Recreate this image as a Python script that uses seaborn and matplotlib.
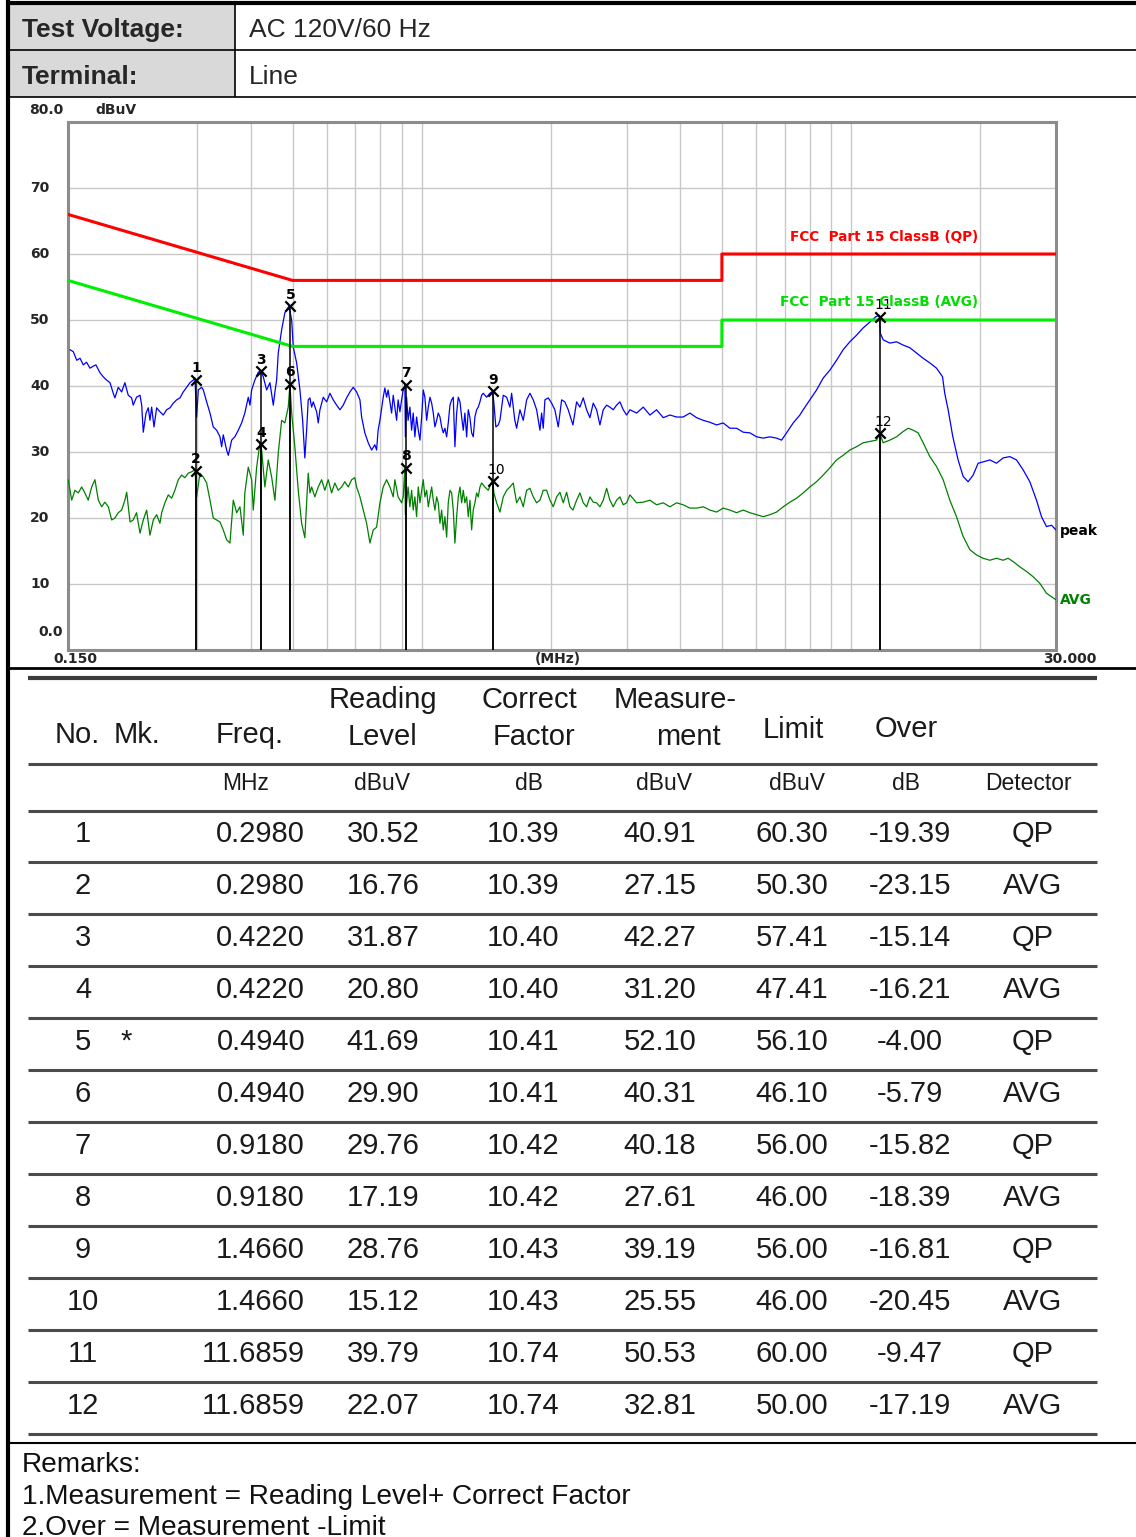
import numpy as np
import pandas as pd
import matplotlib
matplotlib.use("Agg")
import matplotlib.pyplot as plt
import seaborn as sns
from matplotlib import font_manager as fm
from matplotlib.patches import Rectangle

sns.set_style("white")
plt.rcParams["font.family"] = ["Liberation Sans", "DejaVu Sans"]

# ---------------- header info ----------------
header_labels = ["Test Voltage:", "Terminal:"]
header_values = ["AC 120V/60 Hz", "Line"]

# ---------------- spectrum traces (MHz, dBuV) ----------------
peak_freq = [
    0.1516, 0.1543, 0.1572, 0.1600, 0.1628, 0.1657, 0.1688, 0.1717, 0.1742, 0.1781,
    0.1812, 0.1845, 0.1879, 0.1912, 0.1929, 0.1964, 0.2000, 0.2035, 0.2072, 0.2110,
    0.2128, 0.2166, 0.2207, 0.2227, 0.2246, 0.2279, 0.2307, 0.2328, 0.2349, 0.2379,
    0.2413, 0.2456, 0.2500, 0.2546, 0.2592, 0.2638, 0.2686, 0.2735, 0.2783, 0.2834,
    0.2885, 0.2937, 0.2963, 0.2990, 0.3017, 0.3072, 0.3099, 0.3155, 0.3212, 0.3269,
    0.3329, 0.3389, 0.3419, 0.3449, 0.3512, 0.3543, 0.3575, 0.3608, 0.3670, 0.3738,
    0.3806, 0.3872, 0.3944, 0.3980, 0.4016, 0.4086, 0.4163, 0.4222, 0.4274, 0.4352,
    0.4430, 0.4510, 0.4550, 0.4592, 0.4632, 0.4717, 0.4799, 0.4905, 0.4977, 0.5020,
    0.5112, 0.5203, 0.5279, 0.5342, 0.5393, 0.5440, 0.5490, 0.5540, 0.5588, 0.5690,
    0.5740, 0.5792, 0.5896, 0.6004, 0.6111, 0.6221, 0.6334, 0.6448, 0.6563, 0.6683,
    0.6803, 0.6925, 0.7051, 0.7178, 0.7243, 0.7369, 0.7504, 0.7642, 0.7775, 0.7849,
    0.7913, 0.7990, 0.8133, 0.8205, 0.8282, 0.8349, 0.8430, 0.8507, 0.8581, 0.8657,
    0.8738, 0.8809, 0.8894, 0.8975, 0.9054, 0.9134, 0.9159, 0.9219, 0.9293, 0.9384,
    0.9470, 0.9552, 0.9637, 0.9727, 0.9814, 0.9904, 0.9994, 1.0081, 1.0170, 1.0265,
    1.0355, 1.0450, 1.0545, 1.0637, 1.0731, 1.0831, 1.0925, 1.1025, 1.1125, 1.1222,
    1.1321, 1.1427, 1.1527, 1.1632, 1.1738, 1.1841, 1.1945, 1.2057, 1.2163, 1.2273,
    1.2385, 1.2493, 1.2603, 1.2721, 1.2831, 1.2948, 1.3066, 1.3180, 1.3297, 1.3421,
    1.3538, 1.3662, 1.3786, 1.3907, 1.4161, 1.4414, 1.4622, 1.4722, 1.4879, 1.5070,
    1.5208, 1.5481, 1.5764, 1.6045, 1.6191, 1.6472, 1.6631, 1.6930, 1.7233, 1.7548,
    1.7862, 1.8182, 1.8514, 1.8846, 1.9018, 1.9184, 1.9354, 1.9707, 2.0065, 2.0414,
    2.0791, 2.1170, 2.1537, 2.1933, 2.2494, 2.2943, 2.3354, 2.3772, 2.4206, 2.4640,
    2.5081, 2.5540, 2.5998, 2.6463, 2.6947, 2.7429, 2.7920, 2.8430, 2.8940, 2.9458,
    2.9997, 3.0534, 3.1649, 3.2793, 3.3990, 3.5231, 3.6504, 3.7837, 3.9219, 4.0636,
    4.2120, 4.3658, 4.5236, 4.6888, 4.8600, 5.0356, 5.2195, 5.4100, 5.6056, 5.8102,
    6.0223, 6.2400, 6.4678, 6.7039, 6.8861, 7.0731, 7.3288, 7.5964, 7.7324, 8.0147,
    8.3073, 8.6076, 8.9218, 9.2475, 9.5817, 9.9316, 10.294, 10.667, 11.056, 11.419,
    11.633, 11.696, 11.874, 12.307, 12.757, 13.217, 13.700, 14.201, 14.713, 15.251,
    15.808, 16.325, 16.519, 16.822, 17.252, 17.748, 18.232, 18.726, 19.236, 19.758,
    20.296, 21.037, 21.805, 22.593, 23.418, 24.273, 25.150, 26.069, 27.020, 27.754,
    28.508, 29.285, 30.0,
]
peak_level = [
    45.5, 45.2, 43.9, 44.2, 43.2, 43.6, 42.7, 43.0, 43.2, 42.0,
    41.4, 40.9, 40.5, 38.9, 38.2, 39.8, 39.1, 40.5, 38.6, 38.2,
    37.1, 38.3, 38.6, 37.1, 33.0, 35.9, 36.7, 34.8, 36.8, 33.8,
    36.7, 36.1, 35.6, 36.4, 36.7, 37.4, 37.9, 38.2, 39.1, 39.8,
    40.5, 40.9, 41.2, 35.3, 39.4, 39.8, 39.4, 37.6, 35.9, 33.8,
    33.3, 32.3, 30.8, 32.6, 30.3, 29.5, 30.6, 31.8, 32.3, 33.3,
    34.4, 35.9, 38.3, 37.1, 39.4, 40.9, 42.1, 42.3, 41.4, 39.4,
    40.5, 37.1, 39.1, 40.9, 45.0, 48.5, 51.1, 52.1, 50.0, 45.9,
    43.5, 39.4, 34.8, 29.1, 33.3, 37.9, 38.2, 36.8, 37.6, 36.1,
    34.4, 36.4, 38.3, 37.6, 38.9, 37.9, 37.1, 36.4, 37.1, 38.2,
    39.1, 39.8, 39.1, 37.9, 35.3, 32.9, 31.4, 30.3, 31.1, 30.3,
    33.3, 34.8, 38.3, 39.7, 38.3, 39.4, 37.6, 35.9, 38.6, 36.8,
    34.8, 37.9, 36.1, 37.9, 39.4, 40.2, 32.3, 38.3, 34.8, 36.8,
    33.3, 35.9, 32.3, 35.3, 33.3, 31.8, 35.3, 39.4, 38.3, 34.8,
    36.8, 38.3, 37.4, 35.9, 33.8, 34.8, 35.9, 35.3, 33.8, 32.9,
    33.6, 32.3, 34.4, 37.1, 37.9, 38.3, 30.8, 35.9, 38.3, 37.6,
    35.3, 33.3, 35.9, 32.3, 36.4, 35.2, 32.9, 32.3, 35.3, 36.4,
    36.8, 37.6, 38.6, 38.9, 38.3, 38.9, 39.2, 37.4, 33.8, 34.1,
    34.8, 38.6, 38.3, 36.8, 38.9, 34.8, 33.6, 36.4, 34.8, 37.9,
    38.9, 37.9, 36.4, 33.3, 35.9, 33.6, 37.9, 38.2, 37.4, 36.4,
    33.8, 37.9, 37.6, 36.4, 34.1, 37.6, 36.8, 38.2, 36.4, 35.2,
    37.4, 36.4, 34.1, 36.4, 37.1, 36.8, 36.4, 37.1, 37.6, 36.4,
    35.6, 36.4, 35.9, 36.8, 35.6, 36.4, 35.2, 35.6, 35.3, 35.3,
    35.9, 35.2, 34.8, 34.5, 34.1, 34.4, 33.6, 33.6, 33.0, 32.9,
    32.3, 32.1, 32.3, 32.1, 31.8, 32.9, 34.4, 35.6, 36.4, 37.9,
    39.4, 41.2, 42.4, 43.9, 45.5, 46.7, 47.7, 48.8, 49.7, 50.5,
    50.7, 48.0, 47.0, 46.5, 46.7, 46.2, 45.8, 45.0, 44.2, 43.5,
    42.7, 41.4, 38.9, 36.4, 32.3, 28.8, 26.3, 25.5, 26.5, 28.3,
    28.5, 28.8, 28.3, 29.1, 29.3, 28.8, 27.3, 25.5, 22.7, 20.2,
    18.7, 18.9, 18.2,
]
avg_freq = [
    0.1502, 0.1530, 0.1557, 0.1585, 0.1614, 0.1642, 0.1672, 0.1703, 0.1733, 0.1765,
    0.1797, 0.1828, 0.1862, 0.1896, 0.1929, 0.1964, 0.2000, 0.2035, 0.2055, 0.2092,
    0.2128, 0.2166, 0.2207, 0.2246, 0.2287, 0.2328, 0.2370, 0.2413, 0.2456, 0.2479,
    0.2522, 0.2568, 0.2615, 0.2661, 0.2710, 0.2759, 0.2807, 0.2859, 0.2911, 0.2963,
    0.2990, 0.3044, 0.3099, 0.3155, 0.3212, 0.3269, 0.3329, 0.3389, 0.3449, 0.3512,
    0.3575, 0.3639, 0.3706, 0.3772, 0.3840, 0.3872, 0.3944, 0.4016, 0.4051, 0.4125,
    0.4199, 0.4237, 0.4311, 0.4390, 0.4471, 0.4550, 0.4632, 0.4717, 0.4799, 0.4887,
    0.4932, 0.4977, 0.5063, 0.5156, 0.5251, 0.5342, 0.5393, 0.5440, 0.5490, 0.5540,
    0.5636, 0.5740, 0.5845, 0.5946, 0.6056, 0.6167, 0.6274, 0.6389, 0.6507, 0.6619,
    0.6741, 0.6865, 0.6984, 0.7051, 0.7178, 0.7306, 0.7440, 0.7573, 0.7709, 0.7849,
    0.7990, 0.8133, 0.8282, 0.8430, 0.8581, 0.8657, 0.8809, 0.8975, 0.9054, 0.9134,
    0.9159, 0.9219, 0.9293, 0.9384, 0.9470, 0.9552, 0.9637, 0.9727, 0.9814, 0.9904,
    0.9994, 1.0081, 1.0170, 1.0265, 1.0355, 1.0450, 1.0545, 1.0637, 1.0731, 1.0831,
    1.0925, 1.1025, 1.1125, 1.1222, 1.1321, 1.1427, 1.1527, 1.1632, 1.1738, 1.1841,
    1.1945, 1.2057, 1.2163, 1.2273, 1.2385, 1.2493, 1.2603, 1.2721, 1.2831, 1.2948,
    1.3066, 1.3180, 1.3297, 1.3421, 1.3538, 1.3662, 1.3786, 1.4026, 1.4283, 1.4545,
    1.4645, 1.4722, 1.4940, 1.5208, 1.5481, 1.5764, 1.6045, 1.6333, 1.6631, 1.6930,
    1.7233, 1.7548, 1.7862, 1.8182, 1.8514, 1.8846, 1.9184, 1.9534, 1.9884, 2.0241,
    2.0610, 2.0979, 2.1355, 2.1745, 2.2134, 2.2494, 2.2943, 2.3354, 2.3772, 2.4206,
    2.4640, 2.5081, 2.5540, 2.5998, 2.6463, 2.6947, 2.7429, 2.7920, 2.8430, 2.8940,
    2.9458, 2.9997, 3.0534, 3.1649, 3.2793, 3.3990, 3.5231, 3.6504, 3.7837, 3.9219,
    4.0636, 4.2120, 4.3658, 4.5236, 4.6888, 4.8600, 5.0356, 5.2195, 5.4100, 5.6056,
    5.8102, 6.0223, 6.2400, 6.4678, 6.7039, 6.9489, 7.1998, 7.4627, 7.7324, 8.0147,
    8.3073, 8.6076, 8.9218, 9.2475, 9.5817, 9.9316, 10.294, 10.667, 11.056, 11.460,
    11.665, 11.874, 12.307, 12.757, 13.217, 13.576, 13.946, 14.323, 14.713, 15.251,
    15.808, 16.379, 16.976, 17.596, 18.232, 18.898, 19.588, 20.296, 21.037, 21.805,
    22.593, 23.205, 23.838, 24.708, 25.610, 26.535, 27.504, 28.508, 29.537, 30.0,
]
avg_level = [
    25.8, 22.7, 24.2, 23.8, 24.7, 23.8, 22.7, 24.7, 25.8, 22.7,
    21.7, 22.4, 21.7, 19.7, 20.0, 20.8, 21.2, 22.7, 23.9, 19.4,
    19.7, 20.8, 17.7, 19.7, 21.2, 17.4, 19.7, 20.5, 19.2, 20.8,
    22.3, 23.5, 23.0, 24.2, 25.8, 26.5, 26.1, 26.8, 27.0, 27.3,
    23.2, 26.8, 26.2, 25.3, 22.7, 20.0, 19.7, 19.4, 18.2, 16.7,
    16.2, 22.7, 20.8, 21.7, 17.4, 23.8, 27.7, 25.8, 21.2, 27.7,
    31.4, 30.3, 24.7, 28.8, 26.2, 22.7, 29.8, 34.8, 34.4, 36.8,
    40.3, 35.9, 30.8, 24.2, 19.2, 17.0, 22.3, 26.8, 23.8, 24.7,
    23.2, 24.7, 25.8, 24.2, 25.8, 23.8, 25.3, 24.2, 24.7, 25.5,
    24.7, 25.8, 26.1, 24.7, 23.2, 21.2, 19.2, 16.2, 18.2, 18.6,
    22.3, 24.7, 25.8, 24.7, 23.2, 25.8, 23.2, 22.3, 23.2, 27.6,
    20.5, 22.3, 24.7, 21.7, 24.2, 21.2, 23.2, 20.2, 24.7, 22.3,
    24.2, 25.8, 23.2, 24.2, 21.7, 23.2, 24.7, 22.7, 21.2, 23.2,
    22.3, 19.2, 21.2, 18.2, 20.2, 17.1, 22.3, 24.2, 23.8, 21.2,
    16.2, 20.2, 23.2, 24.7, 22.3, 24.2, 22.3, 23.2, 20.2, 22.7,
    18.2, 21.2, 22.3, 23.8, 23.2, 24.7, 25.3, 24.7, 24.2, 25.5,
    25.5, 23.8, 22.3, 20.9, 23.2, 24.2, 24.7, 25.3, 22.3, 23.2,
    21.7, 24.2, 24.5, 23.2, 22.3, 22.7, 24.2, 24.2, 22.7, 21.7,
    23.2, 23.9, 22.3, 23.9, 21.7, 21.2, 22.7, 23.8, 22.3, 21.7,
    23.2, 22.4, 22.3, 21.7, 22.7, 24.5, 22.7, 21.7, 22.7, 23.2,
    22.0, 22.3, 23.5, 22.3, 22.4, 22.7, 22.0, 22.3, 21.7, 22.3,
    22.0, 21.5, 21.5, 21.7, 21.2, 20.9, 21.5, 21.2, 20.8, 21.2,
    20.8, 20.5, 20.2, 20.5, 20.9, 21.7, 22.4, 23.0, 23.8, 24.7,
    25.5, 26.5, 27.6, 28.8, 29.5, 30.3, 30.8, 31.4, 31.6, 31.8,
    32.8, 31.4, 31.8, 32.3, 33.1, 33.6, 33.3, 32.9, 31.4, 29.3,
    27.8, 25.8, 22.7, 20.2, 17.2, 15.2, 14.4, 13.9, 13.6, 13.9,
    13.6, 13.9, 13.4, 12.6, 11.9, 11.1, 10.1, 8.6, 7.9, 7.6,
]

# ---------------- limit lines ----------------
qp_limit_freq = [0.15, 0.5, 0.5, 5.0, 5.0, 30.0]
qp_limit_level = [66.0, 56.0, 56.0, 56.0, 60.0, 60.0]
avg_limit_freq = [0.15, 0.5, 0.5, 5.0, 5.0, 30.0]
avg_limit_level = [56.0, 46.0, 46.0, 46.0, 50.0, 50.0]
qp_limit_name = "FCC  Part 15 ClassB (QP)"
avg_limit_name = "FCC  Part 15 ClassB (AVG)"

# ---------------- axis ----------------
grid_freqs = [0.3, 0.4, 0.5, 0.6, 0.7, 0.8, 0.9, 1, 2, 3, 4, 5, 6, 7, 8, 9, 10, 20]
y_tick_values = [10, 20, 30, 40, 50, 60, 70]

# ---------------- measurement table ----------------
tbl_no = [1, 2, 3, 4, 5, 6, 7, 8, 9, 10, 11, 12]
tbl_mk = ["", "", "", "", "*", "", "", "", "", "", "", ""]
tbl_freq = [0.2980, 0.2980, 0.4220, 0.4220, 0.4940, 0.4940, 0.9180, 0.9180,
            1.4660, 1.4660, 11.6859, 11.6859]
tbl_reading = [30.52, 16.76, 31.87, 20.80, 41.69, 29.90, 29.76, 17.19, 28.76, 15.12, 39.79, 22.07]
tbl_correct = [10.39, 10.39, 10.40, 10.40, 10.41, 10.41, 10.42, 10.42, 10.43, 10.43, 10.74, 10.74]
tbl_measure = [40.91, 27.15, 42.27, 31.20, 52.10, 40.31, 40.18, 27.61, 39.19, 25.55, 50.53, 32.81]
tbl_limit = [60.30, 50.30, 57.41, 47.41, 56.10, 46.10, 56.00, 46.00, 56.00, 46.00, 60.00, 50.00]
tbl_over = [-19.39, -23.15, -15.14, -16.21, -4.00, -5.79, -15.82, -18.39, -16.81, -20.45, -9.47, -17.19]
tbl_detector = ["QP", "AVG", "QP", "AVG", "QP", "AVG", "QP", "AVG", "QP", "AVG", "QP", "AVG"]
remarks = ["Remarks:",
           "1.Measurement = Reading Level+ Correct Factor",
           "2.Over = Measurement -Limit"]

assert len(peak_freq) == len(peak_level)
assert len(avg_freq) == len(avg_level)

# ---------------- fonts ----------------
names = {f.name for f in fm.fontManager.ttflist}
CHART_FONT = ["DejaVu Sans"]
if "Liberation Sans Narrow" in names:
    LIM_FONT, LIM_SIZE = ["Liberation Sans Narrow", "DejaVu Sans"], 12.5
else:
    LIM_FONT, LIM_SIZE = ["DejaVu Sans"], 9.8
TXT = ["Liberation Sans", "DejaVu Sans"]
AX_FS = 10

W, H = 1136, 1537
PX = 0.72  # points per pixel at dpi 100
fig = plt.figure(figsize=(W / 100, H / 100), dpi=100)
fig.patch.set_facecolor("white")

# background layout axes in pixel coordinates
bg = fig.add_axes([0, 0, 1, 1], zorder=0)
bg.set_xlim(0, W)
bg.set_ylim(H, 0)
bg.axis("off")


def hline(y, x0, x1, lw, c="black"):
    bg.plot([x0, x1], [y, y], color=c, lw=lw, solid_capstyle="butt")


def vline(x, y0, y1, lw, c="black"):
    bg.plot([x, x], [y0, y1], color=c, lw=lw, solid_capstyle="butt")


# header block
bg.add_patch(Rectangle((9, 4), 226, 93, facecolor="#d9d9d9", edgecolor="none"))
hline(3, 7, W, 3.0)
hline(50, 8, W, 1.2)
hline(97, 8, W, 1.2)
vline(235, 3, 97, 1.2)
vline(8, 0, H, 3.0)
for i, (lab, val) in enumerate(zip(header_labels, header_values)):
    base = 37 + 47 * i
    bg.text(22, base, lab, fontsize=19, fontweight="bold", family=TXT, va="baseline", ha="left")
    bg.text(249, base, val, fontsize=19, family=TXT, va="baseline", ha="left")

hline(668, 8, W, 2.0)
hline(1443, 8, W, 1.5)

# ---------------- chart ----------------
ax = fig.add_axes([68 / W, 1 - 650 / H, 988 / W, 528 / H], zorder=3)
ax.set_facecolor("white")

lim_qp = pd.DataFrame({"freq": qp_limit_freq, "level": qp_limit_level})
lim_avg = pd.DataFrame({"freq": avg_limit_freq, "level": avg_limit_level})
df_peak = pd.DataFrame({"freq": peak_freq, "level": peak_level})
df_avg = pd.DataFrame({"freq": avg_freq, "level": avg_level})
df_mk = pd.DataFrame({"freq": tbl_freq, "level": tbl_measure})

sns.lineplot(data=df_avg, x="freq", y="level", ax=ax, color="#008000", lw=0.9,
             estimator=None, sort=False, legend=False, zorder=3)
sns.lineplot(data=df_peak, x="freq", y="level", ax=ax, color="#0000ff", lw=0.9,
             estimator=None, sort=False, legend=False, zorder=3)
sns.lineplot(data=lim_qp, x="freq", y="level", ax=ax, color="#ff0000", lw=2.2,
             estimator=None, sort=False, legend=False, zorder=4)
sns.lineplot(data=lim_avg, x="freq", y="level", ax=ax, color="#00ee00", lw=2.2,
             estimator=None, sort=False, legend=False, zorder=4)
ax.vlines(df_mk["freq"], 0, df_mk["level"], color="black", lw=1.1, zorder=5)
sns.scatterplot(data=df_mk, x="freq", y="level", ax=ax, marker="x", color="black",
                s=55, linewidth=1.6, zorder=6, legend=False)

ax.set_xscale("log")
ax.set_xlim(0.15, 30)
ax.set_ylim(0, 80)
ax.set_xticks(grid_freqs)
ax.set_xticks([], minor=True)
ax.set_yticks(y_tick_values)
ax.tick_params(which="both", length=0, labelbottom=False, labelleft=False)
ax.set_xlabel("")
ax.set_ylabel("")
ax.grid(True, which="major", color="#c8c8c8", lw=1.0)
ax.set_axisbelow(True)
for s in ax.spines.values():
    s.set_color("#8c8c8c")
    s.set_linewidth(2.2)
    s.set_visible(True)

# marker number labels
for n, f, v in zip(tbl_no, tbl_freq, tbl_measure):
    dx = 3 if n >= 10 else 0
    ax.annotate(str(n), xy=(f, v), xytext=(dx * PX, 4.5 * PX), textcoords="offset points",
                ha="center", va="bottom", fontsize=10, fontweight="bold" if n < 10 else "normal",
                family=CHART_FONT, color="black", zorder=7)

# y labels
ytr = ax.get_yaxis_transform()
for v in y_tick_values:
    ax.text(-38 / 988, v, str(v), transform=ytr, ha="left", va="center",
            fontsize=AX_FS, fontweight="bold", family=CHART_FONT)
ax.annotate("80.0", xy=(0, 80), xycoords=ytr, xytext=(-5 * PX, 12 * PX), textcoords="offset points",
            ha="right", va="center", fontsize=AX_FS, fontweight="bold", family=CHART_FONT)
ax.annotate("dBuV", xy=(0, 80), xycoords=ytr, xytext=(27 * PX, 12 * PX), textcoords="offset points",
            ha="left", va="center", fontsize=AX_FS, fontweight="bold", family=CHART_FONT)
ax.annotate("0.0", xy=(0, 0), xycoords=ytr, xytext=(-5 * PX, 18 * PX), textcoords="offset points",
            ha="right", va="center", fontsize=AX_FS, fontweight="bold", family=CHART_FONT)

# x labels
xtr = ax.get_xaxis_transform()
ax.annotate("0.150", xy=(0.15, 0), xycoords=xtr, xytext=(-15 * PX, -9 * PX), textcoords="offset points",
            ha="left", va="center", fontsize=AX_FS, fontweight="bold", family=CHART_FONT)
ax.annotate("(MHz)", xy=(0.496, 0), xycoords="axes fraction", xytext=(0, -9 * PX),
            textcoords="offset points", ha="center", va="center", fontsize=AX_FS,
            fontweight="bold", family=CHART_FONT)
ax.annotate("30.000", xy=(30, 0), xycoords=xtr, xytext=(-13 * PX, -9 * PX), textcoords="offset points",
            ha="left", va="center", fontsize=AX_FS, fontweight="bold", family=CHART_FONT)

# trace end labels
ax.annotate("peak", xy=(peak_freq[-1], peak_level[-1]), xytext=(4 * PX, -1 * PX),
            textcoords="offset points", ha="left", va="center", fontsize=AX_FS,
            fontweight="bold", family=CHART_FONT, color="black", annotation_clip=False)
ax.annotate("AVG", xy=(avg_freq[-1], avg_level[-1]), xytext=(4 * PX, 0),
            textcoords="offset points", ha="left", va="center", fontsize=AX_FS,
            fontweight="bold", family=CHART_FONT, color="#008000", annotation_clip=False)

# limit names
ax.text(0.921, 0.782, qp_limit_name, transform=ax.transAxes, ha="right", va="center",
        fontsize=LIM_SIZE, fontweight="bold", family=LIM_FONT, color="#ff0000", zorder=8)
ax.text(0.921, 0.659, avg_limit_name, transform=ax.transAxes, ha="right", va="center",
        fontsize=LIM_SIZE, fontweight="bold", family=LIM_FONT, color="#00dd00", zorder=8)

# ---------------- results table ----------------
TL, TR = 28, 1097
hline(678, TL, TR, 3.0, "#3c3c3c")
for y in [764, 811] + [862 + 52 * i for i in range(12)]:
    hline(y, TL, TR, 2.2, "#4a4a4a")

FS = 21
hdr = [("No.", 77, 743, "center"), ("Mk.", 137, 743, "center"), ("Freq.", 250, 743, "center"),
       ("Reading", 383, 708, "center"), ("Level", 382, 745, "center"),
       ("Correct", 529, 708, "center"), ("Factor", 534, 745, "center"),
       ("Measure-", 675, 708, "center"), ("ment", 721, 745, "right"),
       ("Limit", 793, 738, "center"), ("Over", 906, 737, "center")]
for t, x, y, ha in hdr:
    bg.text(x, y, t, fontsize=FS, family=TXT, ha=ha, va="baseline", color="#1a1a1a")
units = [("MHz", 246), ("dBuV", 382), ("dB", 529), ("dBuV", 664), ("dBuV", 797),
         ("dB", 906), ("Detector", 1028)]
for t, x in units:
    bg.text(x, 790, t, fontsize=16.5, family=TXT, ha="center", va="baseline", color="#1a1a1a")

for i in range(len(tbl_no)):
    base = 842 + 52 * i
    kw = dict(fontsize=FS, family=TXT, va="baseline", color="#1a1a1a")
    bg.text(83, base, str(tbl_no[i]), ha="center", **kw)
    if tbl_mk[i]:
        bg.text(126, base, tbl_mk[i], ha="center", **kw)
    bg.text(305, base, f"{tbl_freq[i]:.4f}", ha="right", **kw)
    bg.text(383, base, f"{tbl_reading[i]:.2f}", ha="center", **kw)
    bg.text(523, base, f"{tbl_correct[i]:.2f}", ha="center", **kw)
    bg.text(660, base, f"{tbl_measure[i]:.2f}", ha="center", **kw)
    bg.text(792, base, f"{tbl_limit[i]:.2f}", ha="center", **kw)
    bg.text(910, base, f"{tbl_over[i]:.2f}", ha="center", **kw)
    bg.text(1033, base, tbl_detector[i], ha="center", **kw)

for i, t in enumerate(remarks):
    bg.text(22, 1472 + 31.5 * i, t, fontsize=20.2, family=TXT, ha="left", va="baseline",
            color="#111111")

fig.savefig("out.png", dpi=100, facecolor="white")
